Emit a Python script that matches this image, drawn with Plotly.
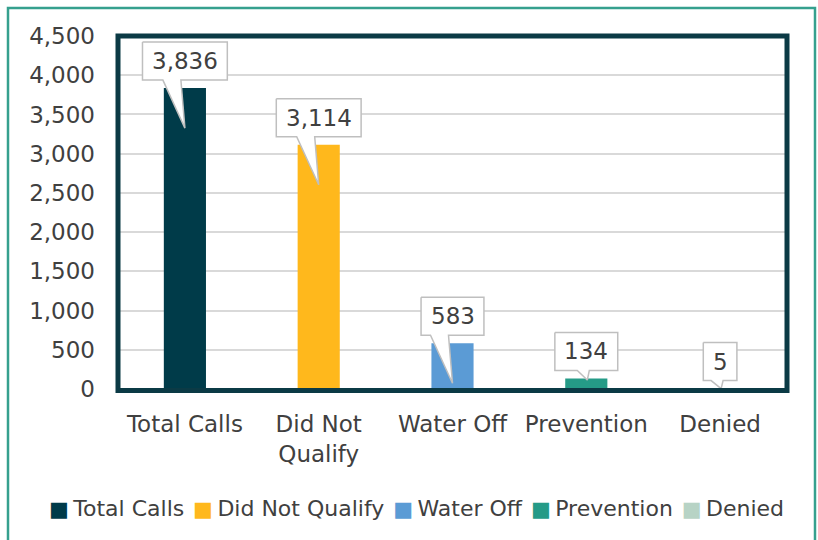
import plotly.graph_objects as go

# ---- data ----
categories = ["Total Calls", "Did Not Qualify", "Water Off", "Prevention", "Denied"]
tick_labels = ["Total Calls", "Did Not<br>Qualify", "Water Off", "Prevention", "Denied"]
values = [3836, 3114, 583, 134, 5]
colors = ["#003B49", "#FFB81C", "#5B9BD5", "#259B87", "#B7D3C5"]
y_tick_vals = [0, 500, 1000, 1500, 2000, 2500, 3000, 3500, 4000, 4500]

# ---- layout geometry ----
W, H = 818, 540
ML, MR, MT, MB = 118, 31, 36, 151
PW = W - ML - MR
PH = H - MT - MB
YMAX = 4500
N = len(categories)
xu = N / PW          # data units per pixel (x)
yu = YMAX / PH       # data units per pixel (y)
FONT = "DejaVu Sans"
TXT = "#404040"
FS = 23

def text_px(s, fs=FS):
    w = 0
    for ch in s:
        if ch.isdigit():
            w += 0.636
        elif ch == ",":
            w += 0.318
        else:
            w += 0.6
    return w * fs

fig = go.Figure()
xs = list(range(N))
for i, (name, v, c) in enumerate(zip(categories, values, colors)):
    fig.add_trace(go.Bar(x=[xs[i]], y=[v], name=name, marker=dict(color=c, line=dict(width=0)),
                         width=0.315, showlegend=False, hoverinfo="x+y"))

# callouts (box + wedge) built from the values
annotations = []
for i, v in enumerate(values):
    label = f"{v:,}"
    bw = text_px(label) + 19
    bh = 38
    yb = v + 8 * yu
    yt = yb + bh * yu
    xl = i - bw / 2 * xu
    xr = i + bw / 2 * xu
    if v - 510 > 0:
        tip_y = v - 510
        wl, wr, tx = i - 22 * xu, i - 4 * xu, i
    else:
        tip_y = v * 0.85
        wl, wr, tx = i - 9 * xu, i + 3 * xu, i + 1 * xu
    px = [xl, xr, xr, wr, tx, wl, xl, xl]
    py = [yt, yt, yb, yb, tip_y, yb, yb, yt]
    fig.add_trace(go.Scatter(x=px, y=py, mode="lines", fill="toself", fillcolor="white",
                             line=dict(color="#BFBFBF", width=1.5), hoverinfo="skip",
                             showlegend=False))
    annotations.append(dict(x=i, y=(yb + yt) / 2, xref="x", yref="y", text=label,
                            showarrow=False, font=dict(family=FONT, size=FS, color=TXT),
                            xanchor="center", yanchor="middle"))

# legend built as text
parts = []
for name, c in zip(categories, colors):
    parts.append(f'<span style="color:{c};font-size:21px">■</span>'
                 f'<span style="font-size:14px"> </span>{name}')
legend_text = '<span style="font-size:28px"> </span>'.join(parts)
annotations.append(dict(x=(416 - ML) / PW, y=(MT + PH - 507) / PH, xref="paper", yref="paper",
                        text=legend_text, showarrow=False, xanchor="center", yanchor="middle",
                        font=dict(family=FONT, size=22, color=TXT)))

shapes = [
    # plot frame
    dict(type="rect", xref="paper", yref="paper", x0=0, x1=1, y0=-1.5 / PH, y1=1,
         line=dict(color="#0B3A45", width=5), layer="above"),
    # outer chart border
    dict(type="rect", xref="paper", yref="paper",
         x0=(8 - ML) / PW, x1=(815 - ML) / PW,
         y0=(MT + PH - 548) / PH, y1=(MT + PH - 8) / PH,
         line=dict(color="#35A08E", width=2.5), layer="below"),
]

fig.update_layout(
    width=W, height=H,
    margin=dict(l=ML, r=MR, t=MT, b=MB),
    paper_bgcolor="white", plot_bgcolor="white",
    barmode="overlay",
    showlegend=False,
    font=dict(family=FONT, size=FS, color=TXT),
    xaxis=dict(range=[-0.5, N - 0.5], tickvals=xs, ticktext=tick_labels, showgrid=False,
               zeroline=False, showline=False, ticks="", ticklabelstandoff=19,
               tickfont=dict(family=FONT, size=FS, color=TXT), fixedrange=True),
    yaxis=dict(range=[0, YMAX], tickvals=y_tick_vals, tickformat=",d", showgrid=True,
               gridcolor="#D9D9D9", gridwidth=1.5, zeroline=True, zerolinecolor="#D9D9D9",
               zerolinewidth=1.5, showline=False, ticks="", ticklabelstandoff=22,
               tickfont=dict(family=FONT, size=FS, color=TXT), fixedrange=True),
    annotations=annotations,
    shapes=shapes,
)

fig.write_html("out.html", config={"displayModeBar": False},
               post_script="document.body.style.margin='0px';document.body.style.overflow='hidden';")
